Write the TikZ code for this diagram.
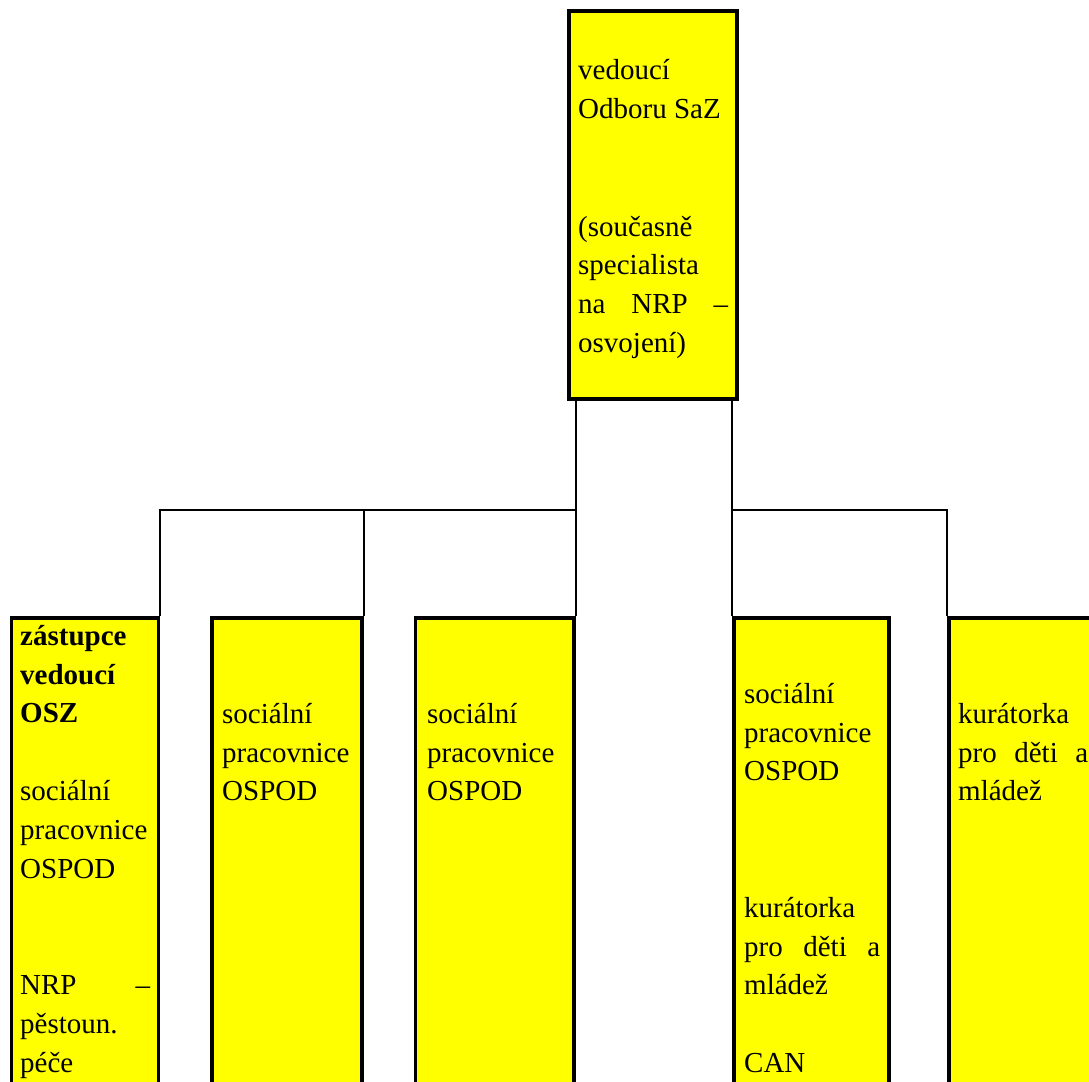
\documentclass[tikz,border=0pt]{standalone}
\usepackage{fontspec}
\setmainfont{Liberation Serif}
\usetikzlibrary{calc}
\definecolor{boxyellow}{RGB}{255,255,0}
\newcommand\stl{\vrule height 27.2pt depth 11.6pt width 0pt}
\begin{document}
\begin{tikzpicture}[x=1pt,y=-1pt,
  orgbox/.style={draw=black, fill=boxyellow, line width=3.2pt, inner sep=0pt, minimum height=482pt},
  conn/.style={draw=black, line width=2pt},
  txt/.style={anchor=north west, inner sep=0pt, align=left, font=\fontsize{29}{38.8}\selectfont}]
\useasboundingbox (0,0) rectangle (1089,1081);
\clip (0,0) rectangle (1089,1081);
% boxes
\node[orgbox, minimum width=168pt, minimum height=388pt] (top) at (653,205) {};
\node[orgbox, minimum width=147.2pt] (box1) at (84.9,859) {};
\node[orgbox, minimum width=150pt] (box2) at (287,859) {};
\node[orgbox, minimum width=158.4pt] (box3) at (494.8,859) {};
\node[orgbox, minimum width=155pt] (box4) at (811.5,859) {};
\node[orgbox, minimum width=155pt] (box5) at (1026.5,859) {};
% connectors
\coordinate (jl) at (575,510);
\coordinate (jr) at (734,510);
\draw[conn] (top.south -| box3.north east) -- (box3.north east);
\draw[conn] (jl -| box3.north east) -| (box2.north east);
\draw[conn] (jl -| box2.north east) -| (box1.north east);
\draw[conn] (top.south -| box4.north west) -- (box4.north west);
\draw[conn] (jr -| box4.north west) -| (box5.north west);
% texts
\node[txt] (ttop) at (578,52) {\stl vedoucí\\ \stl Odboru SaZ\\[79pt]
  \stl(současně\\ \stl specialista\\ \stl\makebox[150pt][s]{na NRP –}\\ \stl osvojení)};
\node[txt] (t1) at (20,617.8) {\stl\textbf{zástupce}\\ \stl\textbf{vedoucí}\\ \stl\textbf{OSZ}\\[38.8pt]
  \stl sociální\\ \stl pracovnice\\ \stl OSPOD\\[77.6pt]
  \stl\makebox[130pt][s]{NRP –}\\ \stl pěstoun.\\ \stl péče};
\node[txt] (t2) at (222,695.8) {\stl sociální\\ \stl pracovnice\\ \stl OSPOD};
\node[txt] (t3) at (427,695.8) {\stl sociální\\ \stl pracovnice\\ \stl OSPOD};
\node[txt] (t4) at (744,675.8) {\stl sociální\\ \stl pracovnice\\ \stl OSPOD\\[97.6pt]
  \stl kurátorka\\ \stl\makebox[136pt][s]{pro děti a}\\ \stl mládež\\[38.8pt] \stl CAN};
\node[txt] (t5) at (958,695.8) {\stl kurátorka\\ \stl\makebox[130pt][s]{pro děti a}\\ \stl mládež};
\end{tikzpicture}
\end{document}
